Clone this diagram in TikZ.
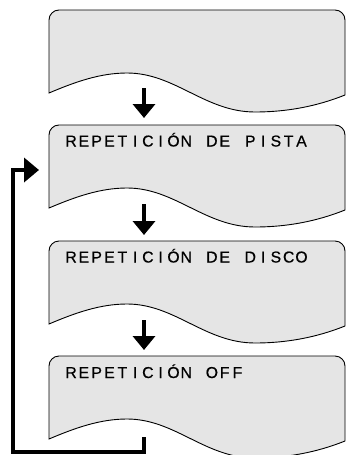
\documentclass[tikz,border=0pt]{standalone}
\usepackage{fontspec}
\setmainfont{Liberation Sans}
\newfontfamily\lcdfont[FakeBold=0.6]{Liberation Sans}
\usetikzlibrary{arrows.meta}
\newcommand\lcdtext[1]{\lcdi#1\relax}
\def\lcdi#1{\ifx#1\relax\else\makebox[12.8pt]{#1}\expandafter\lcdi\fi}
\definecolor{boxgray}{HTML}{E5E5E5}
\tikzset{
  panel/.style={fill=boxgray, draw=black, line width=0.9pt},
  flow/.style={line width=4pt, -{Triangle[length=14pt,width=22pt]}},
  loopflow/.style={line width=4pt, -{Triangle[length=15pt,width=24pt]}},
  lcd/.style={anchor=base west, inner sep=0pt, font=\lcdfont\fontsize{15.8}{16}\selectfont}
}
\newcommand\panelshape[1]{%
  \draw[panel] (49,#1+83) -- (49,#1+10)
    .. controls (49,#1+4.48) and (53.48,#1) .. (59,#1) -- (335,#1)
    .. controls (340.52,#1) and (345,#1+4.48) .. (345,#1+10) -- (345,#1+85)
    .. controls (325,#1+93) and (295,#1+102) .. (255,#1+102)
    .. controls (205,#1+102) and (175,#1+63) .. (127,#1+63)
    .. controls (100,#1+63) and (75,#1+72) .. (49,#1+83) -- cycle;}
\begin{document}
\begin{tikzpicture}[x=1pt,y=-1pt]
\useasboundingbox (0,0) rectangle (346,455);
\panelshape{10}
\panelshape{125}
\panelshape{241}
\panelshape{356}
\node[lcd] (t2) at (64.5,146.5) {\lcdtext{REPETICIÓN~DE~PISTA}};
\node[lcd] (t3) at (64.5,262.5) {\lcdtext{REPETICIÓN~DE~DISCO}};
\node[lcd] (t4) at (64.5,378) {\lcdtext{REPETICIÓN~OFF}};
\coordinate (a1s) at (144,88);
\coordinate (a1e) at (144,118);
\coordinate (a2s) at (144,204);
\coordinate (a2e) at (144,235);
\coordinate (a3s) at (144,320);
\coordinate (a3e) at (144,350);
\draw[flow] (a1s) -- (a1e);
\draw[flow] (a2s) -- (a2e);
\draw[flow] (a3s) -- (a3e);
\coordinate (fs) at (144,437);
\coordinate (fc) at (13,452);
\coordinate (fe) at (39,170);
\draw[loopflow] (fs) |- (fc) |- (fe);
\end{tikzpicture}
\end{document}
